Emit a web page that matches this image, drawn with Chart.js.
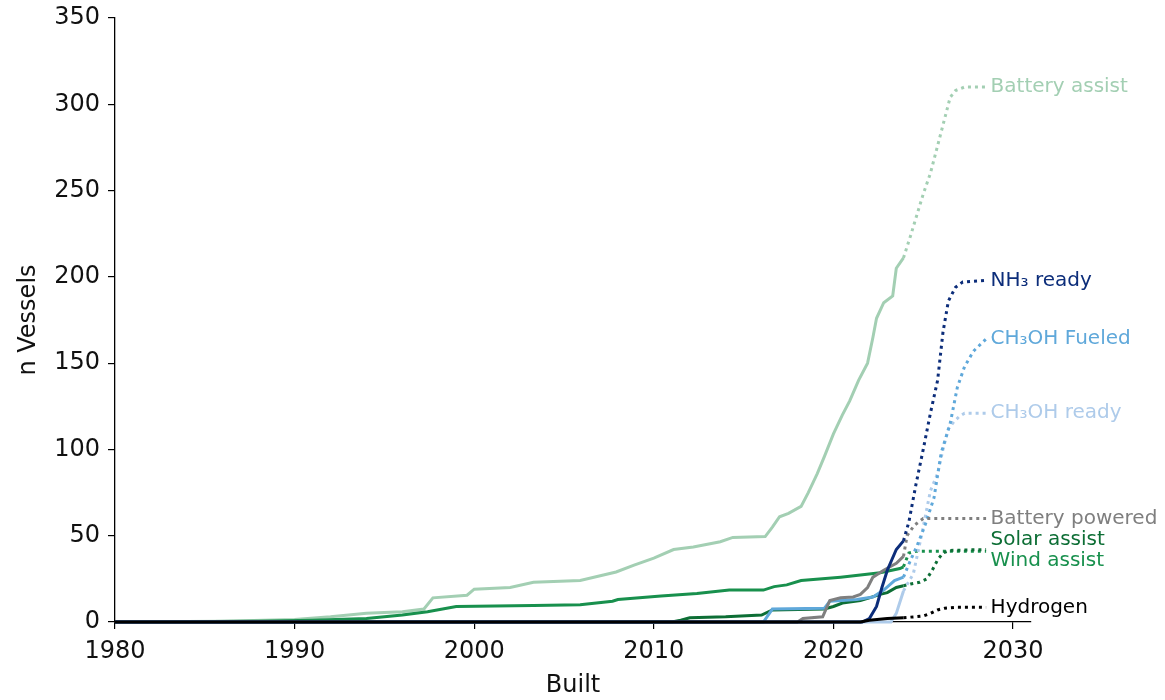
<!DOCTYPE html>
<html>
<head>
<meta charset="utf-8">
<script src="https://cdn.jsdelivr.net/npm/chart.js@4.4.0/dist/chart.umd.min.js"></script>
<style>
  html, body { margin: 0; padding: 0; background: #fff; }
</style>
</head>
<body>
<canvas id="chart" width="1165" height="700"></canvas>
<script>
// series, in drawing order (first one ends up on top)
const seriesNames = ["Hydrogen", "NH₃ ready", "Battery powered", "CH₃OH Fueled", "CH₃OH ready", "Solar assist", "Wind assist", "Battery assist"];
const seriesColors = ["#000000", "#0c2d7a", "#7f7f7f", "#5fa8da", "#aecbea", "#0d6e35", "#18904d", "#a3cfb3"];
const labelY = [8.5, 198, 60, 164, 121, 47.5, 35.5, 310];

// built fleet up to end of 2023, orderbook after (drawn dotted)
const projStart = 2023.9;

const hydrogenYears = [1980, 2021.5, 2022.0, 2023.0, 2023.9, 2024.5, 2025.0, 2025.4, 2025.8, 2026.2, 2026.8, 2028.5];
const hydrogenVals  = [0, 0, 1, 2, 2.5, 3, 3.5, 5, 7, 8, 8.5, 8.5];

const nh3Years = [1980, 2021.6, 2022.0, 2022.4, 2022.7, 2023.0, 2023.5, 2023.9, 2024.2, 2024.6, 2025.0, 2025.4, 2025.8, 2026.1, 2026.4, 2026.8, 2027.2, 2028.5];
const nh3Vals  = [0, 0, 2, 9, 20, 30, 42, 47, 58, 80, 100, 121, 140, 168, 186, 194, 197, 198];

const battPoweredYears = [1980, 2018.0, 2018.3, 2019.4, 2019.8, 2020.4, 2021.1, 2021.5, 2021.9, 2022.2, 2022.8, 2023.5, 2023.9, 2024.1, 2024.5, 2025.0, 2028.5];
const battPoweredVals  = [0, 0, 2, 3, 12.5, 14, 14.5, 16, 20, 26, 30, 34, 38, 50, 56, 60, 60];

const meohFueledYears = [1980, 2016.1, 2016.6, 2019.5, 2019.8, 2021.3, 2022.2, 2022.8, 2023.4, 2023.9, 2024.3, 2024.65, 2025.1, 2025.6, 2026.0, 2026.5, 2026.9, 2027.3, 2027.8, 2028.5];
const meohFueledVals  = [0, 0, 7.5, 8, 12, 13, 14.5, 18.5, 24, 26, 36, 44, 56, 72, 98, 115, 136, 148, 157, 164];

const meohReadyYears = [1980, 2023.2, 2023.5, 2023.9, 2024.45, 2024.9, 2025.4, 2025.8, 2026.1, 2026.4, 2026.7, 2027.0, 2027.3, 2028.5];
const meohReadyVals  = [0, 0, 5, 18, 28, 50, 76, 86, 100, 112, 116, 119, 121, 121];

const solarYears = [1980, 2011.0, 2011.5, 2012.0, 2014.0, 2016.0, 2016.6, 2019.5, 2020.0, 2020.5, 2021.5, 2022.0, 2022.6, 2023.0, 2023.5, 2023.9, 2024.3, 2024.8, 2025.2, 2025.5, 2025.8, 2026.1, 2026.5, 2028.5];
const solarVals  = [0, 0, 1, 2.5, 3, 4, 7, 7.5, 9, 11, 12.5, 14, 16, 17, 20, 21, 22, 23, 25, 30, 36, 40, 41.5, 42];

const windYears = [1980, 1988, 1991, 1994, 1996, 1997.4, 1999.0, 2003.3, 2005.9, 2007.7, 2008.0, 2010.4, 2012.4, 2014.2, 2016.1, 2016.7, 2017.4, 2018.2, 2020.4, 2022.6, 2023.7, 2023.9, 2024.2, 2024.6, 2028.5];
const windVals  = [0, 0.5, 1, 2, 4, 6, 9, 9.5, 10, 12, 13, 15, 16.5, 18.5, 18.5, 20.5, 21.5, 24, 26, 28.5, 31, 32, 40, 41, 41];

const battAssistYears = [1980, 1986, 1990, 1992, 1994, 1996, 1997.2, 1997.7, 1999.6, 2000.0, 2002.0, 2003.3, 2005.9, 2007.9, 2008.9, 2010.0, 2011.1, 2012.2, 2013.7, 2014.4, 2016.2, 2016.6, 2017.0, 2017.5, 2018.2, 2018.6, 2019.1, 2019.5, 2020.0, 2020.5, 2020.9, 2021.4, 2021.9, 2022.2, 2022.4, 2022.8, 2023.3, 2023.5, 2023.9,
  2024.3, 2025.0, 2025.4, 2025.8, 2026.2, 2026.5, 2026.8, 2027.3, 2028.5];
const battAssistVals  = [0, 0.5, 1.5, 3, 5, 6, 7.5, 14, 15.5, 19, 20, 23, 24, 29, 33, 37, 42, 43.5, 46.5, 49, 49.5, 55, 61, 63, 67, 75, 86, 96, 109, 120, 128, 140, 150, 165, 176, 185, 189, 205, 211,
  224, 248, 260, 276, 292, 304, 308, 310, 310];

const seriesYears = [hydrogenYears, nh3Years, battPoweredYears, meohFueledYears, meohReadyYears, solarYears, windYears, battAssistYears];
const seriesVals  = [hydrogenVals, nh3Vals, battPoweredVals, meohFueledVals, meohReadyVals, solarVals, windVals, battAssistVals];

const xTicks = [1980, 1990, 2000, 2010, 2020, 2030];
const yTicks = [0, 50, 100, 150, 200, 250, 300, 350];

Chart.defaults.font.family = '"DejaVu Sans", sans-serif';
Chart.defaults.color = '#111';

const datasets = seriesNames.map((name, i) => ({
    label: name,
    data: seriesYears[i].map((yr, j) => ({ x: yr, y: seriesVals[i][j] })),
    borderColor: seriesColors[i],
    borderWidth: 3,
    pointRadius: 0,
    tension: 0,
    fill: false,
    clip: false,
    segment: {
        borderDash: (ctx) => ctx.p0.parsed.x >= projStart ? [3, 4] : undefined,
    },
}));

const endLabels = {
    id: "endLabels",
    afterDatasetsDraw(chart) {
        const { ctx, scales: { x, y } } = chart;
        ctx.save();
        ctx.font = '20px "DejaVu Sans"';
        ctx.textBaseline = "middle";
        ctx.textAlign = "left";
        seriesNames.forEach((name, i) => {
            ctx.fillStyle = seriesColors[i];
            ctx.fillText(name, x.getPixelForValue(2028.75), y.getPixelForValue(labelY[i]));
        });
        ctx.restore();
    }
};

new Chart(document.getElementById("chart"), {
    type: "line",
    data: { datasets },
    options: {
        responsive: false,
        animation: false,
        devicePixelRatio: 1,
        layout: { padding: { left: 0, right: 134, top: 18, bottom: 0 } },
        plugins: {
            legend: { display: false },
            tooltip: { enabled: false },
        },
        scales: {
            x: {
                type: "linear",
                min: 1980,
                max: 2031,
                afterBuildTicks: (s) => { s.ticks = xTicks.map(v => ({ value: v })); },
                afterFit: (s) => { s.height = 78; },
                ticks: { font: { size: 24 }, color: "#111", padding: 8, maxRotation: 0, callback: (v) => String(v) },
                grid: { drawOnChartArea: false, drawTicks: true, tickLength: 7, color: "#000", lineWidth: 1.2 },
                border: { display: true, color: "#000", width: 1.3 },
                title: { display: true, text: "Built", font: { size: 24 }, color: "#111", padding: { top: 0, bottom: 0 } },
            },
            y: {
                min: 0,
                max: 350,
                afterBuildTicks: (s) => { s.ticks = yTicks.map(v => ({ value: v })); },
                afterFit: (s) => { s.width = 115; s.paddingTop = 0; s.paddingBottom = 0; },
                ticks: { font: { size: 24 }, color: "#111", padding: 8, callback: (v) => String(v) },
                grid: { drawOnChartArea: false, drawTicks: true, tickLength: 7, color: "#000", lineWidth: 1.2 },
                border: { display: true, color: "#000", width: 1.3 },
                title: { display: true, text: "n Vessels", font: { size: 24 }, color: "#111", padding: { top: 14, bottom: 0 } },
            }
        }
    },
    plugins: [endLabels]
});
</script>
</body>
</html>
